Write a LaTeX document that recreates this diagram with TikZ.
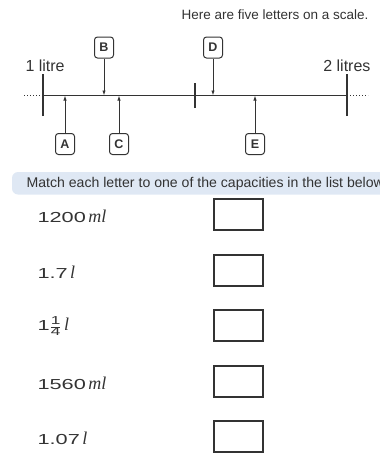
\documentclass[tikz,border=0pt]{standalone}
\usepackage{fontspec}
\setmainfont{Liberation Sans}
\newfontfamily\amountfont[FakeStretch=1.5]{Liberation Sans}
\newfontfamily\unitfont{Liberation Serif}
\usetikzlibrary{arrows.meta}
\definecolor{ink}{HTML}{333333}
\definecolor{bannerblue}{HTML}{DFE8F4}
\newcommand\unitml{\,{\fontsize{18}{18}\unitfont\itshape ml}}
\newcommand\unitl{\,{\fontsize{18}{18}\unitfont\itshape l}}
\newcommand\quarter{$\frac{\mbox{\fontsize{11.5}{11.5}\amountfont 1}}{\mbox{\fontsize{11.5}{11.5}\amountfont 4}}$}

\begin{document}
\begin{tikzpicture}[x=1pt, y=-1pt, every node/.style={text=ink, font=\fontsize{13.5}{15}\selectfont},
  letter/.style={draw=ink, line width=1pt, rounded corners=3pt, minimum width=19pt, minimum height=21pt, inner sep=0pt, font=\fontsize{12.5}{14}\selectfont\bfseries},
  pointer/.style={-{Latex[length=5pt,width=3.5pt]}, ink, line width=0.9pt},
  tick/.style={ink, line width=1.8pt},
  answer/.style={draw=ink, line width=1.6pt, minimum width=49pt, minimum height=31pt, inner sep=0pt},
  amount/.style={anchor=west, font=\fontsize{14.5}{16}\amountfont}]
\useasboundingbox (0,0) rectangle (380,453);

\node[anchor=east] (title) at (372,15) {Here are five letters on a scale.};

% the scale
\coordinate (one) at (43,95.5);
\coordinate (two) at (347,95.5);
\coordinate (half) at (195,95.5);
\coordinate (lend) at (24,95.5);
\coordinate (rend) at (368,95.5);
\draw[ink, line width=1.2pt] (one) -- (two);
\draw[ink, line width=1pt, dotted] (lend) -- (one) (two) -- (rend);
\draw[tick] ([yshift=-20.5pt]one) -- ([yshift=21.5pt]one);
\draw[tick] ([yshift=-20.5pt]two) -- ([yshift=21.5pt]two);
\draw[tick] ([yshift=-12.5pt]half) -- ([yshift=12.5pt]half);
\node[anchor=west, font=\fontsize{16}{18}\selectfont] (litre) at (22,66) {1 litre};
\node[anchor=east, font=\fontsize{16}{18}\selectfont] (litres) at (374,66) {2 litres};

\node[letter] (B) at (104,47.5) {B};
\node[letter] (D) at (213,47.5) {D};
\node[letter] (A) at (65,144) {A};
\node[letter] (C) at (119,144) {C};
\node[letter] (E) at (255,144) {E};
\draw[pointer] (B) -- (B |- one);
\draw[pointer] (D) -- (D |- one);
\draw[pointer] (A) -- (A |- one);
\draw[pointer] (C) -- (C |- one);
\draw[pointer] (E) -- (E |- one);

% banner
\begin{scope}
\clip (0,0) rectangle (380,453);
\fill[bannerblue, rounded corners=6pt] (12,172) rectangle (400,194.5);
\node[anchor=west, font=\fontsize{14.1}{16}\selectfont] (match) at (23,183.5) {Match each letter to one of the capacities in the list below};
\end{scope}

\node[amount] (a1) at (34,216.5) {1200\unitml};
\node[amount] (a2) at (34,272) {1.7\unitl};
\node[amount] (a3) at (34,326) {1\quarter\unitl};
\node[amount] (a4) at (34,383) {1560\unitml};
\node[amount] (a5) at (34,438) {1.07\unitl};
\node[answer] (b1) at (238.5,214.5) {};
\node[answer] (b2) at (238.5,270.5) {};
\node[answer] (b3) at (238.5,325.5) {};
\node[answer] (b4) at (238.5,381.5) {};
\node[answer] (b5) at (238.5,436.5) {};
\end{tikzpicture}
\end{document}
